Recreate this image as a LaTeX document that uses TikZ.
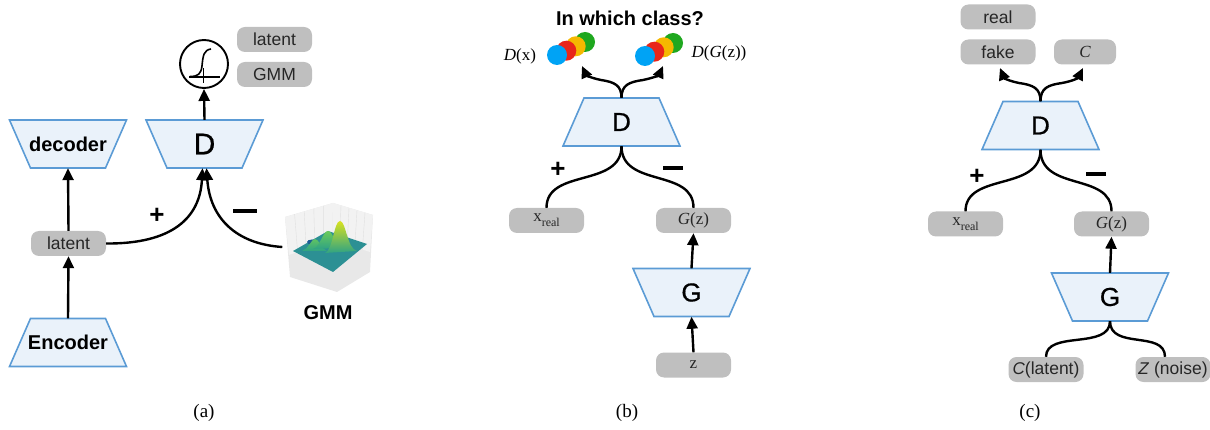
\documentclass[tikz,border=0pt]{standalone}
\usepackage{fontspec}
\setmainfont{Liberation Serif}
\newfontfamily\sansfam{Liberation Sans}
\newfontfamily\sansmed{Liberation Sans}[FakeBold=0.6]
\usetikzlibrary{arrows.meta,calc}

\definecolor{trapfill}{HTML}{EAF2FA}
\definecolor{trapedge}{HTML}{5B9BD5}
\definecolor{pillgray}{HTML}{BFBFBF}
\definecolor{dotblue}{HTML}{00A3F5}
\definecolor{dotred}{HTML}{E8261A}
\definecolor{dotorange}{HTML}{F5B800}
\definecolor{dotgreen}{HTML}{1FA81F}
\definecolor{plotteal}{HTML}{2C9094}
\definecolor{peakyellow}{HTML}{D9E21F}
\definecolor{peakgreen}{HTML}{6CCB5A}
\definecolor{peakbase}{HTML}{2FA383}

\newcommand\pillfnt{\sansfam\fontsize{17.5}{20}\selectfont}
\newcommand\boldfnt{\sansfam\bfseries\fontsize{20}{24}\selectfont}
\newcommand\bigfnt{\sansmed\fontsize{30}{36}\selectfont}
\newcommand\midfnt{\sansmed\fontsize{26}{30}\selectfont}
\newcommand\serfnt{\fontsize{17}{20}\selectfont}
\newcommand\capfnt{\fontsize{19}{22}\selectfont}
\newcommand\signfnt{\sansfam\bfseries\fontsize{26}{30}\selectfont}
\newcommand\xreal{x\raisebox{-5pt}{\fontsize{12}{12}\selectfont real}}

% network blocks: a trapezoid outline plus a named 117x48 node on top of it
% #1 node name, #2 x, #3 y, #4 label
\newcommand\widetrap[4]{%
  \filldraw[trapline] (#2-58.5,#3-24) -- (#2+58.5,#3-24) -- (#2+37.5,#3+24) -- (#2-37.5,#3+24) -- cycle;
  \node[trapbox] (#1) at (#2,#3) {#4};}
\newcommand\narrowtrap[4]{%
  \filldraw[trapline] (#2-37.5,#3-24) -- (#2+37.5,#3-24) -- (#2+58.5,#3+24) -- (#2-58.5,#3+24) -- cycle;
  \node[trapbox] (#1) at (#2,#3) {#4};}

\tikzset{
  trapline/.style={draw=trapedge, fill=trapfill, line width=1.6pt, line join=miter},
  trapbox/.style={rectangle, minimum width=117pt, minimum height=48pt, inner sep=0pt},
  pill/.style={rectangle, rounded corners=8pt, fill=pillgray,
    minimum width=75pt, minimum height=25pt, inner sep=0pt,
    font=\pillfnt, text=black!85},
  serpill/.style={pill, font=\serfnt},
  con/.style={line width=2.4pt, black},
  arr/.style={con, -{Triangle[length=12pt,width=11pt]}},
  sign/.style={font=\signfnt, inner sep=0pt},
  minus/.style={inner sep=0pt},
}

\begin{document}
\begin{tikzpicture}[x=1pt,y=-1pt]
\useasboundingbox (0,0) rectangle (1210,430);

% ---------------- (a) adversarial autoencoder ----------------
\widetrap{dec}{68}{144}{\boldfnt decoder}
\widetrap{Da}{204.5}{144}{\bigfnt D}
\narrowtrap{enc}{68}{342.5}{\boldfnt Encoder}
\node[pill] (latL) at (68.5,243.5) {latent};
\node[pill] (latT) at (274.5,39.5) {latent};
\node[pill] (gmmT) at (274.5,74.5) {GMM};
\node[circle, draw, line width=1.9pt, minimum size=48pt, inner sep=0pt] (sig) at (204,64) {};
% sigmoid glyph inside the output unit
\draw[line width=1.5pt] (189,77) -- (220,77);
\draw[line width=1.5pt] (203.5,68) -- (203.5,83);
\draw[line width=1.6pt] (190,76.5) .. controls (198,76.5) and (201,74) .. (202,66)
  .. controls (203,55) and (204,50) .. (211,49);

% GMM surface plot
\node[minimum size=90pt, inner sep=0pt] (gmm) at (327.5,247) {};
\fill[black!9] (285,217) -- (333,203) -- (373,215) -- (370,272) -- (337,292) -- (290,277) -- cycle;
\fill[black!5] (285,217) -- (333,203) -- (332,240) -- (289,255) -- cycle;
\fill[black!5] (333,203) -- (373,215) -- (370,252) -- (332,240) -- cycle;
\foreach \t in {0.2,0.4,0.6,0.8}{
  \draw[black!12, line width=0.4pt] ($(285,217)!\t!(333,203)$) -- ($(289,255)!\t!(332,240)$);
  \draw[black!12, line width=0.4pt] ($(333,203)!\t!(373,215)$) -- ($(332,240)!\t!(370,252)$);
}
\fill[plotteal] (293,251) -- (328,231) -- (367,244) -- (333,272) -- cycle;
\fill[plotteal!75!blue!85!black] (312,242) ellipse (5pt and 2.5pt);
\shade[top color=peakgreen!80!peakbase, bottom color=peakbase] (302,251) .. controls (309,249) and (311,239) .. (315,239) .. controls (319,239) and (321,249) .. (327,251) -- cycle;
\shade[top color=peakgreen, bottom color=peakbase] (313,249) .. controls (320,247) and (323,231) .. (328,231) .. controls (333,231) and (335,246) .. (341,248) -- cycle;
\shade[top color=peakyellow, bottom color=peakbase] (325,253) .. controls (333,250) and (334,221) .. (340,221) .. controls (346,221) and (347,249) .. (357,251) -- cycle;
\node[font=\boldfnt] (gmmlab) at (328,313) {GMM};

\draw[arr] (enc.north) -- (latL.south);
\draw[arr] (latL.north) -- (dec.south);
\draw[arr] (Da.north) -- (sig.south);
\draw[arr] (latL.east) .. controls (172,244) and (200,218) .. ([xshift=-2pt]Da.south);
\draw[arr] (gmm.west) .. controls (236,244) and (210,218) .. ([xshift=2pt]Da.south);
\node[sign] (pa) at (157,216) {+};
\node[minus] (ma) at (245,211) {\rule{24pt}{4.5pt}};
\node[font=\capfnt] (capa) at (204,413) {(a)};

% ---------------- (b) categorical GAN ----------------
\node[font=\boldfnt] (title) at (630,18) {In which class?};
\foreach \cx/\cy in {557/55, 645/56}{
  \fill[dotgreen]  (\cx+28,\cy-13) circle (10pt);
  \fill[dotorange] (\cx+18.7,\cy-8.7) circle (10pt);
  \fill[dotred]    (\cx+9.3,\cy-4.3) circle (10pt);
  \fill[dotblue]   (\cx,\cy) circle (10pt);
}
\node[font=\serfnt] (Dx) at (520,56) {\textit{D}(x)};
\node[font=\serfnt] (DGz) at (719,53) {\textit{D}(\textit{G}(z))};
\narrowtrap{Db}{621.5}{122}{\midfnt D}
\node[serpill] (xrb) at (546.5,220.5) {\xreal};
\node[serpill] (Gzb) at (693.5,220.5) {\textit{G}(z)};
\widetrap{Gb}{691.5}{292.5}{\midfnt G}
\node[serpill] (zb) at (693.5,365) {z};
\coordinate (tipbL) at (582,66);
\coordinate (tipbR) at (663,66);
\draw[arr] (Db.north) .. controls (621.5,85) and (614,82) .. (601,80)
  .. controls (591,78) and (586,75) .. (tipbL);
\draw[arr] (Db.north) .. controls (621.5,85) and (629,82) .. (643,80)
  .. controls (653,78) and (659,75) .. (tipbR);
\draw[con] (Db.south) .. controls (621.5,188) and (546.5,168) .. (xrb.north);
\draw[con] (Db.south) .. controls (621.5,188) and (693.5,168) .. (Gzb.north);
\draw[arr] (Gb.north) -- (Gzb.south);
\draw[arr] (zb.north) -- (Gb.south);
\node[sign] (pb) at (558,170) {+};
\node[minus] (mb) at (673,168) {\rule{20pt}{4.5pt}};
\node[font=\capfnt] (capb) at (627,413) {(b)};

% ---------------- (c) InfoGAN-style ----------------
\node[pill] (real) at (998,17) {real};
\node[pill] (fake) at (998,52) {fake};
\node[serpill, minimum width=62pt] (Cp) at (1085,52) {\textit{C}};
\narrowtrap{Dc}{1040.5}{125.5}{\midfnt D}
\node[serpill] (xrc) at (965.5,224) {\xreal};
\node[serpill] (Gzc) at (1111.5,224) {\textit{G}(z)};
\widetrap{Gc}{1110}{297}{\midfnt G}
\node[pill] (Clat) at (1046,369.5) {{\serfnt\textit{C}}(latent)};
\node[pill] (Zn) at (1173,369.5) {{\serfnt\textit{Z}} (noise)};
\coordinate (tipcL) at (1000,68);
\coordinate (tipcR) at (1083,68);
\draw[arr] (Dc.north) .. controls (1040.5,88) and (1033,85) .. (1019,83)
  .. controls (1009,81) and (1004,78) .. (tipcL);
\draw[arr] (Dc.north) .. controls (1040.5,88) and (1048,85) .. (1062,83)
  .. controls (1073,81) and (1078,78) .. (tipcR);
\draw[con] (Dc.south) .. controls (1040.5,192) and (965.5,172) .. (xrc.north);
\draw[con] (Dc.south) .. controls (1040.5,192) and (1111.5,172) .. (Gzc.north);
\draw[arr] (Gc.north) -- (Gzc.south);
\draw[con] (Gc.south) .. controls (1110,350) and (1046,330) .. (Clat.north);
\draw[con] (Gc.south) .. controls (1110,350) and (1165,330) .. ([xshift=-8pt]Zn.north);
\node[sign] (pc) at (977,177) {+};
\node[minus] (mc) at (1096,174) {\rule{20pt}{4.5pt}};
\node[font=\capfnt] (capc) at (1030,413) {(c)};
\end{tikzpicture}
\end{document}
